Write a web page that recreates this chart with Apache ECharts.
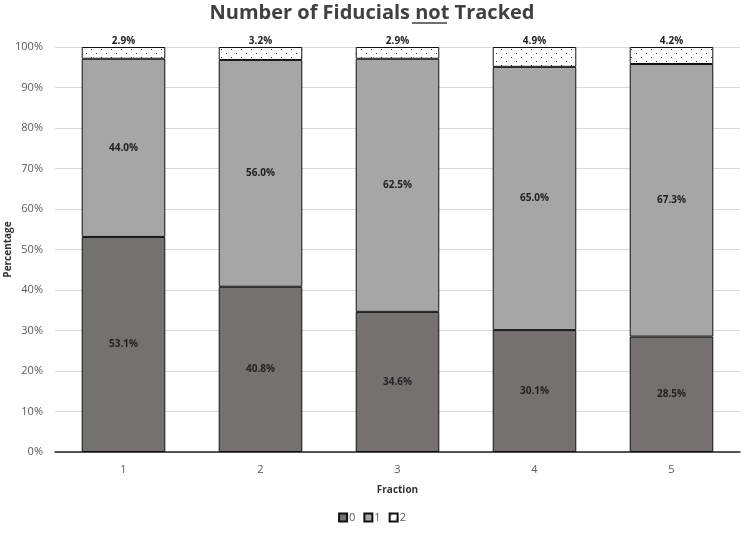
<!DOCTYPE html>
<html><head><meta charset="utf-8">
<script src="https://cdn.jsdelivr.net/npm/echarts@6/dist/echarts.min.js"></script>
<style>html,body{margin:0;padding:0;background:#fff}#c{width:744px;height:534px}</style>
</head><body><div id="c"></div>
<script>
const categories = ['1','2','3','4','5'];
const series0 = [53.1, 40.8, 34.6, 30.1, 28.5];
const series1 = [44.0, 56.0, 62.5, 65.0, 67.3];
const series2 = [2.9, 3.2, 2.9, 4.9, 4.2];
const seriesNames = ['0','1','2'];

const cv = document.createElement('canvas');
cv.width = 10; cv.height = 8;
const cx = cv.getContext('2d');
cx.fillStyle = '#fff'; cx.fillRect(0,0,10,8);
cx.fillStyle = '#333';
cx.fillRect(1,1,1,1); cx.fillRect(6,5,1,1);
const dots = {image: cv, repeat: 'repeat'};

const font = '"Open Sans", "Noto Sans", sans-serif';
const chart = echarts.init(document.getElementById('c'));
const lbl = {show:true, position:'inside', fontSize:10, fontWeight:'bold', color:'#222', fontFamily:font, formatter: p => p.value.toFixed(1) + '%'};
chart.setOption({
  animation:false,
  title:{text:'Number of Fiducials not Tracked', left:'center', top:-2, textStyle:{fontSize:20, fontWeight:'bold', color:'#404040', fontFamily:font}},
  graphic:[{type:'line', shape:{x1:412,y1:23,x2:447,y2:23}, style:{stroke:'#404040', lineWidth:1.5}}],
  grid:{left:55, right:4, top:47, bottom:82, containLabel:false, outerBoundsMode:'none'},
  legend:{bottom:6, left:'center', itemWidth:8, itemHeight:8, itemGap:8, icon:'rect',
    textStyle:{fontSize:11, color:'#595959', fontFamily:font, padding:[0,0,0,-3]}},
  xAxis:{type:'category', data:categories, name:'Fraction', nameLocation:'middle', nameGap:33, nameMoveOverlap:false,
    nameTextStyle:{fontSize:10, fontWeight:'bold', color:'#333', fontFamily:font},
    axisLine:{lineStyle:{color:'#222', width:1.5}}, axisTick:{show:false},
    axisLabel:{fontSize:11, color:'#595959', fontFamily:font, margin:12}},
  yAxis:{type:'value', min:0, max:100, interval:10, name:'Percentage', nameLocation:'middle', nameGap:42, nameMoveOverlap:false,
    nameTextStyle:{fontSize:10, fontWeight:'bold', color:'#333', fontFamily:font},
    axisLabel:{formatter:'{value}%', fontSize:11, color:'#595959', fontFamily:font, margin:12},
    splitLine:{lineStyle:{color:'#d9d9d9'}}, axisLine:{show:false}, axisTick:{show:false}},
  series:[
    {name:seriesNames[0], type:'bar', stack:'a', data:series0, barWidth:'61%', itemStyle:{color:'#767171', borderColor:'#111', borderWidth:1}, label:lbl},
    {name:seriesNames[1], type:'bar', stack:'a', data:series1, itemStyle:{color:'#a6a6a6', borderColor:'#111', borderWidth:1}, label:lbl},
    {name:seriesNames[2], type:'bar', stack:'a', data:series2, itemStyle:{color:dots, borderColor:'#111', borderWidth:1}, label:Object.assign({}, lbl, {position:'top', distance:1})}
  ]
});
</script></body></html>
